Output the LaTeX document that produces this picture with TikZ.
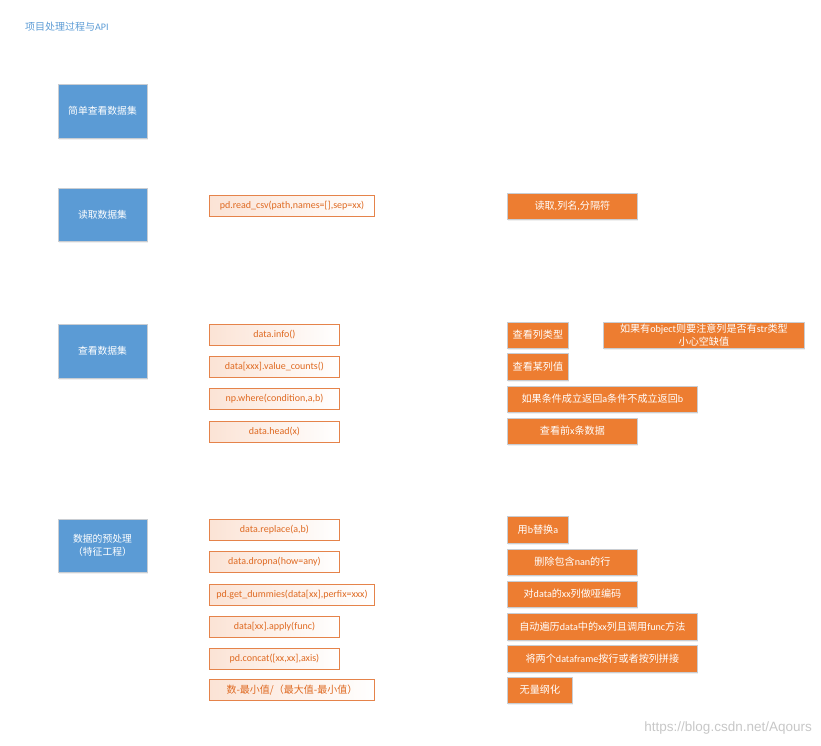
\documentclass[tikz,border=0pt]{standalone}
\usepackage{fontspec}
\setmainfont{Carlito}
\newfontfamily\cjk{Noto Sans CJK SC}
\newfontfamily\wmfont{Liberation Sans}
\usetikzlibrary{shadows}
\definecolor{bluefill}{HTML}{5B9BD5}
\definecolor{orangefill}{HTML}{ED7D31}
\definecolor{orangeline}{HTML}{E5834A}
\definecolor{orangetext}{HTML}{DF6A22}
\definecolor{pinkfill}{HTML}{FBE3D5}
\definecolor{boxborder}{HTML}{C9CDD2}
\tikzset{
  bluebox/.style={rectangle, fill=bluefill, draw=boxborder, line width=0.8pt,
    text=white, inner sep=0pt, minimum width=89pt, minimum height=53pt,
    align=center, font=\fontsize{9.8}{13.5}\selectfont,
    drop shadow={opacity=0.12, shadow xshift=1pt, shadow yshift=-2pt}},
  codebox/.style={rectangle, draw=orangeline, line width=0.9pt,
    left color=pinkfill, right color=white, text=orangetext,
    inner sep=0pt, minimum height=21pt, anchor=west,
    font=\fontsize{10}{12}\selectfont},
  notebox/.style={rectangle, fill=orangefill, draw=boxborder, line width=0.8pt,
    text=white, inner sep=0pt, minimum height=26pt, anchor=west, align=center,
    font=\fontsize{10.1}{13}\selectfont,
    drop shadow={opacity=0.12, shadow xshift=1pt, shadow yshift=-2pt}},
}
\begin{document}
\begin{tikzpicture}[x=1pt,y=-1pt]
\useasboundingbox (0,0) rectangle (821,746);
\node[anchor=west, text=bluefill, inner sep=0pt, font=\fontsize{10}{12}\selectfont] (title) at (25,27) {{\cjk 项目处理过程与}API};

% left blue boxes
\node[bluebox, minimum height=54pt] (b1) at (102.5,111) {\cjk 简单查看数据集};
\node[bluebox] (b2) at (102.5,214.5) {\cjk 读取数据集};
\node[bluebox, minimum height=54pt] (b3) at (102.5,351) {\cjk 查看数据集};
\node[bluebox] (b4) at (102.5,545.5) {\cjk 数据的预处理\\\cjk （特征工程）};

% code boxes
\node[codebox, minimum width=165pt] (l1) at (209,205.5) {pd.read\_csv(path,names=[],sep=xx)};
\node[codebox, minimum width=130pt] (l2) at (209,334.5) {data.info()};
\node[codebox, minimum width=130pt] (l3) at (209,366.5) {data[xxx].value\_counts()};
\node[codebox, minimum width=130pt] (l4) at (209,399) {np.where(condition,a,b)};
\node[codebox, minimum width=130pt] (l5) at (209,431.5) {data.head(x)};
\node[codebox, minimum width=130pt] (l6) at (209,530) {data.replace(a,b)};
\node[codebox, minimum width=130pt] (l7) at (209,562) {data.dropna(how=any)};
\node[codebox, minimum width=165pt] (l8) at (209,594.5) {pd.get\_dummies(data[xx],perfix=xxx)};
\node[codebox, minimum width=130pt] (l9) at (209,626.5) {data[xx].apply(func)};
\node[codebox, minimum width=130pt] (l10) at (209,659) {pd.concat([xx,xx],axis)};
\node[codebox, minimum width=165pt] (l11) at (209,690) {\cjk 数-最小值/（最大值-最小值）};

% note boxes
\node[notebox, minimum width=130pt] (r1) at (507,206) {{\cjk 读取},{\cjk 列名},{\cjk 分隔符}};
\node[notebox, minimum width=61pt] (r2) at (507,335) {\cjk 查看列类型};
\node[notebox, minimum width=201pt] (r2b) at (603,335) {{\cjk 如果有}object{\cjk 则要注意列是否有}str{\cjk 类型}\\\cjk 小心空缺值};
\node[notebox, minimum width=61pt, minimum height=27pt] (r3) at (507,366.5) {\cjk 查看某列值};
\node[notebox, minimum width=190pt] (r4) at (507,399) {{\cjk 如果条件成立返回}a{\cjk 条件不成立返回}b};
\node[notebox, minimum width=130pt] (r5) at (507,431) {{\cjk 查看前}x{\cjk 条数据}};
\node[notebox, minimum width=61pt, minimum height=27pt] (r6) at (507,529.5) {{\cjk 用}b{\cjk 替换}a};
\node[notebox, minimum width=130pt] (r7) at (507,562) {{\cjk 删除包含}nan{\cjk 的行}};
\node[notebox, minimum width=130pt] (r8) at (507,594) {{\cjk 对}data{\cjk 的}xx{\cjk 列做哑编码}};
\node[notebox, minimum width=190pt, minimum height=27pt] (r9) at (507,626.5) {{\cjk 自动遍历}data{\cjk 中的}xx{\cjk 列且调用}func{\cjk 方法}};
\node[notebox, minimum width=190pt, minimum height=27pt] (r10) at (507,658.5) {{\cjk 将两个}dataframe{\cjk 按行或者按列拼接}};
\node[notebox, minimum width=65pt] (r11) at (507,690) {\cjk 无量纲化};

% watermark
\node[anchor=east, inner sep=0pt, text=black!22, font=\wmfont\fontsize{13.5}{15}\selectfont] (wm) at (812,728) {https://blog.csdn.net/Aqours};
\end{tikzpicture}
\end{document}
